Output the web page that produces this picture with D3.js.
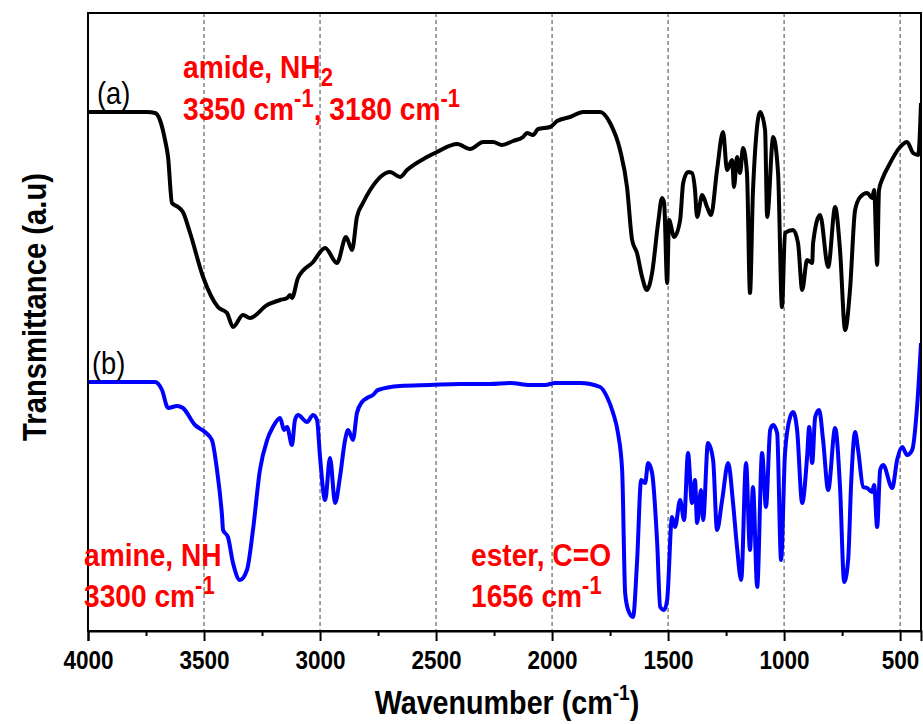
<!DOCTYPE html>
<html>
<head>
<meta charset="utf-8">
<script src="https://cdn.jsdelivr.net/npm/d3@7"></script>
<style>
  body { margin: 0; background: #fff; }
  svg { display: block; font-family: Arial, "Liberation Sans", sans-serif; }
</style>
</head>
<body>
<div id="chart"></div>
<script>

// spectrum (a), wavenumber (cm-1) and transmittance (a.u)
var wn_a = [4000, 3746, 3711, 3690, 3668, 3655, 3638, 3612, 3591, 3560, 3504, 3440, 3401, 3375, 3332, 3302,
  3228, 3172, 3142, 3129, 3121, 3095, 3030, 2978, 2927, 2888, 2862, 2841, 2815, 2784, 2698, 2655, 2625,
  2539, 2496, 2409, 2353, 2297, 2254, 2216, 2168, 2125, 2108, 2082, 2060, 2009, 1978, 1922, 1866, 1793,
  1750, 1707, 1677, 1655, 1634, 1612, 1591, 1569, 1543, 1526, 1517, 1504, 1496, 1474, 1448, 1435, 1414,
  1397, 1384, 1375, 1353, 1332, 1315, 1289, 1263, 1246, 1224, 1216, 1203, 1190, 1177, 1160, 1147, 1134,
  1103, 1082, 1073, 1047, 1026, 1009, 996, 961, 940, 922, 901, 879, 875, 845, 810, 780, 759, 737, 716,
  694, 672, 642, 621, 612, 599, 591, 573, 552, 500, 470, 444, 422, 410];
var t_a = [519, 519, 518, 511, 491, 474, 428, 424, 419, 398, 354, 324, 318, 304, 316, 313,
  326, 331, 333, 336, 333, 353, 369, 383, 368, 394, 381, 414, 428, 441, 459, 454, 461,
  474, 479, 487, 482, 489, 489, 486, 490, 494, 498, 496, 502, 504, 510, 514, 519, 519,
  508, 481, 444, 391, 378, 354, 341, 358, 408, 433, 428, 348, 411, 394, 411, 448, 459,
  458, 441, 414, 436, 424, 416, 461, 499, 461, 471, 444, 474, 458, 483, 458, 338, 441,
  519, 501, 414, 494, 458, 324, 398, 401, 388, 341, 371, 368, 388, 416, 364, 424, 381, 301, 341,
  421, 434, 438, 433, 441, 366, 441, 454, 464, 484, 489, 478, 476, 528];

// spectrum (b)
var wn_b = [4000, 3711, 3681, 3655, 3616, 3591, 3539, 3496, 3466, 3444, 3422, 3418, 3397, 3375, 3345, 3315,
  3289, 3259, 3228, 3203, 3172, 3155, 3142, 3121, 3108, 3095, 3056, 3030, 3013, 3000, 2978, 2957, 2935,
  2914, 2892, 2879, 2858, 2841, 2819, 2797, 2772, 2750, 2655, 2526, 2397, 2267, 2181, 2095, 2030, 1987,
  1879, 1793, 1763, 1737, 1716, 1698, 1685, 1672, 1651, 1634, 1616, 1599, 1586, 1569, 1547, 1534, 1517,
  1504, 1483, 1470, 1448, 1431, 1414, 1397, 1384, 1375, 1358, 1349, 1328, 1306, 1289, 1267, 1241, 1220,
  1203, 1185, 1164, 1147, 1134, 1116, 1095, 1078, 1060, 1047, 1030, 1013, 996, 974, 961, 944, 922, 901,
  892, 879, 866, 849, 832, 810, 780, 759, 741, 724, 711, 694, 681, 659, 642, 621, 612, 599, 586, 573,
  534, 513, 491, 470, 448, 427, 410];
var t_b = [249, 249, 241, 223, 225, 223, 206, 199, 191, 161, 114, 101, 94, 68, 51, 61,
  101, 161, 191, 204, 213, 201, 204, 186, 211, 216, 209, 216, 211, 174, 131, 173, 128,
  154, 191, 201, 191, 218, 229, 233, 236, 241, 245, 246, 247, 247, 248, 246, 246, 248,
  248, 244, 234, 218, 198, 161, 38, 21, 14, 68, 151, 148, 168, 158, 88, 24, 21,
  31, 114, 104, 131, 111, 178, 128, 151, 108, 141, 111, 188, 171, 101, 131, 168, 128,
  84, 51, 168, 81, 144, 44, 178, 124, 201, 206, 198, 71, 178, 214, 219, 201, 128, 174,
  204, 168, 214, 221, 191, 141, 203, 144, 49, 71, 148, 199, 181, 144, 143, 139, 146, 104, 161, 166,
  143, 171, 184, 176, 181, 224, 288];

var major_ticks = [4000, 3500, 3000, 2500, 2000, 1500, 1000, 500];
var minor_ticks = [3750, 3250, 2750, 2250, 1750, 1250, 750];
var grid_ticks = [3500, 3000, 2500, 2000, 1500, 1000, 500];

var width = 923, height = 724;
var margin = {top: 13, right: 2, bottom: 93, left: 88};
var w = width - margin.left - margin.right;
var h = height - margin.top - margin.bottom;

var svg = d3.select("#chart").append("svg")
  .attr("width", width)
  .attr("height", height);

var g = svg.append("g")
  .attr("transform", "translate(" + margin.left + "," + margin.top + ")");

var x = d3.scaleLinear().domain([4000, 410]).range([0, w]);
var y = d3.scaleLinear().domain([0, 618]).range([h, 0]);

svg.append("defs").append("clipPath").attr("id", "plot_clip")
  .append("rect").attr("x", 0).attr("y", 0).attr("width", w).attr("height", h);

// dashed vertical grid
g.selectAll(".grid").data(grid_ticks).enter().append("line")
  .attr("class", "grid")
  .attr("x1", function(d) { return x(d); })
  .attr("x2", function(d) { return x(d); })
  .attr("y1", 0)
  .attr("y2", h)
  .attr("stroke", "#444")
  .attr("stroke-width", 1)
  .attr("stroke-dasharray", "4,3");

// spectra
var line = d3.line()
  .x(function(d) { return x(d[0]); })
  .y(function(d) { return y(d[1]); })
  .curve(d3.curveMonotoneX);

var curves = g.append("g").attr("clip-path", "url(#plot_clip)");

curves.append("path")
  .datum(d3.zip(wn_a, t_a))
  .attr("d", line)
  .attr("fill", "none")
  .attr("stroke", "#000")
  .attr("stroke-width", 4)
  .attr("stroke-linejoin", "round");

curves.append("path")
  .datum(d3.zip(wn_b, t_b))
  .attr("d", line)
  .attr("fill", "none")
  .attr("stroke", "#0000ff")
  .attr("stroke-width", 4)
  .attr("stroke-linejoin", "round");

// frame
g.append("rect")
  .attr("x", 0).attr("y", 0).attr("width", w).attr("height", h)
  .attr("fill", "none").attr("stroke", "#000").attr("stroke-width", 2);

// x axis
var x_axis = g.append("g")
  .attr("transform", "translate(0," + h + ")")
  .call(d3.axisBottom(x).tickValues(major_ticks).tickSize(10).tickFormat(d3.format("d")));

x_axis.select(".domain").attr("stroke-width", 2);
x_axis.selectAll("line").attr("stroke-width", 2);
x_axis.selectAll("text")
  .attr("y", 38).attr("dy", 0)
  .attr("transform", "scale(0.9,1)")
  .style("font-size", "25px")
  .style("font-weight", "bold")
  .style("font-family", "Arial, 'Liberation Sans', sans-serif")
  .attr("fill", "#000");

var minor_axis = g.append("g")
  .attr("transform", "translate(0," + h + ")")
  .call(d3.axisBottom(x).tickValues(minor_ticks).tickSize(5).tickFormat(""));
minor_axis.select(".domain").remove();
minor_axis.selectAll("line").attr("stroke-width", 2);

// texts
function add_text(px, py, k) {
  return svg.append("text")
    .attr("transform", "translate(" + px + "," + py + ") scale(" + k + ",1)");
}

var xt = add_text(507, 714, 0.87)
  .attr("text-anchor", "middle")
  .attr("font-size", 33)
  .attr("font-weight", "bold");
xt.append("tspan").text("Wavenumber (cm");
xt.append("tspan").attr("font-size", 22).attr("dy", -14).text("-1");
xt.append("tspan").attr("dy", 14).text(")");

svg.append("text")
  .attr("transform", "translate(46,307) rotate(-90) scale(0.86,1)")
  .attr("text-anchor", "middle")
  .attr("font-size", 34)
  .attr("font-weight", "bold")
  .text("Transmittance (a.u)");

add_text(97, 104, 0.88).attr("font-size", 31).text("(a)");
add_text(92, 374, 0.88).attr("font-size", 31).text("(b)");

function red_text(px, py) {
  return add_text(px, py, 0.88)
    .attr("fill", "#ff0000")
    .attr("font-size", 32)
    .attr("font-weight", "bold");
}

var r1 = red_text(183, 78);
r1.append("tspan").text("amide, NH");
r1.append("tspan").attr("font-size", 25).attr("dy", 8).text("2");

var r2 = red_text(183, 120);
r2.append("tspan").text("3350 cm");
r2.append("tspan").attr("font-size", 25).attr("dy", -13).text("-1");
r2.append("tspan").attr("dy", 13).text(", 3180 cm");
r2.append("tspan").attr("font-size", 25).attr("dy", -13).text("-1");

red_text(84, 566).text("amine, NH");
var r4 = red_text(84, 607);
r4.append("tspan").text("3300 cm");
r4.append("tspan").attr("font-size", 25).attr("dy", -13).text("-1");

red_text(471, 566).text("ester, C=O");
var r6 = red_text(471, 607);
r6.append("tspan").text("1656 cm");
r6.append("tspan").attr("font-size", 25).attr("dy", -13).text("-1");

</script>
</body>
</html>
